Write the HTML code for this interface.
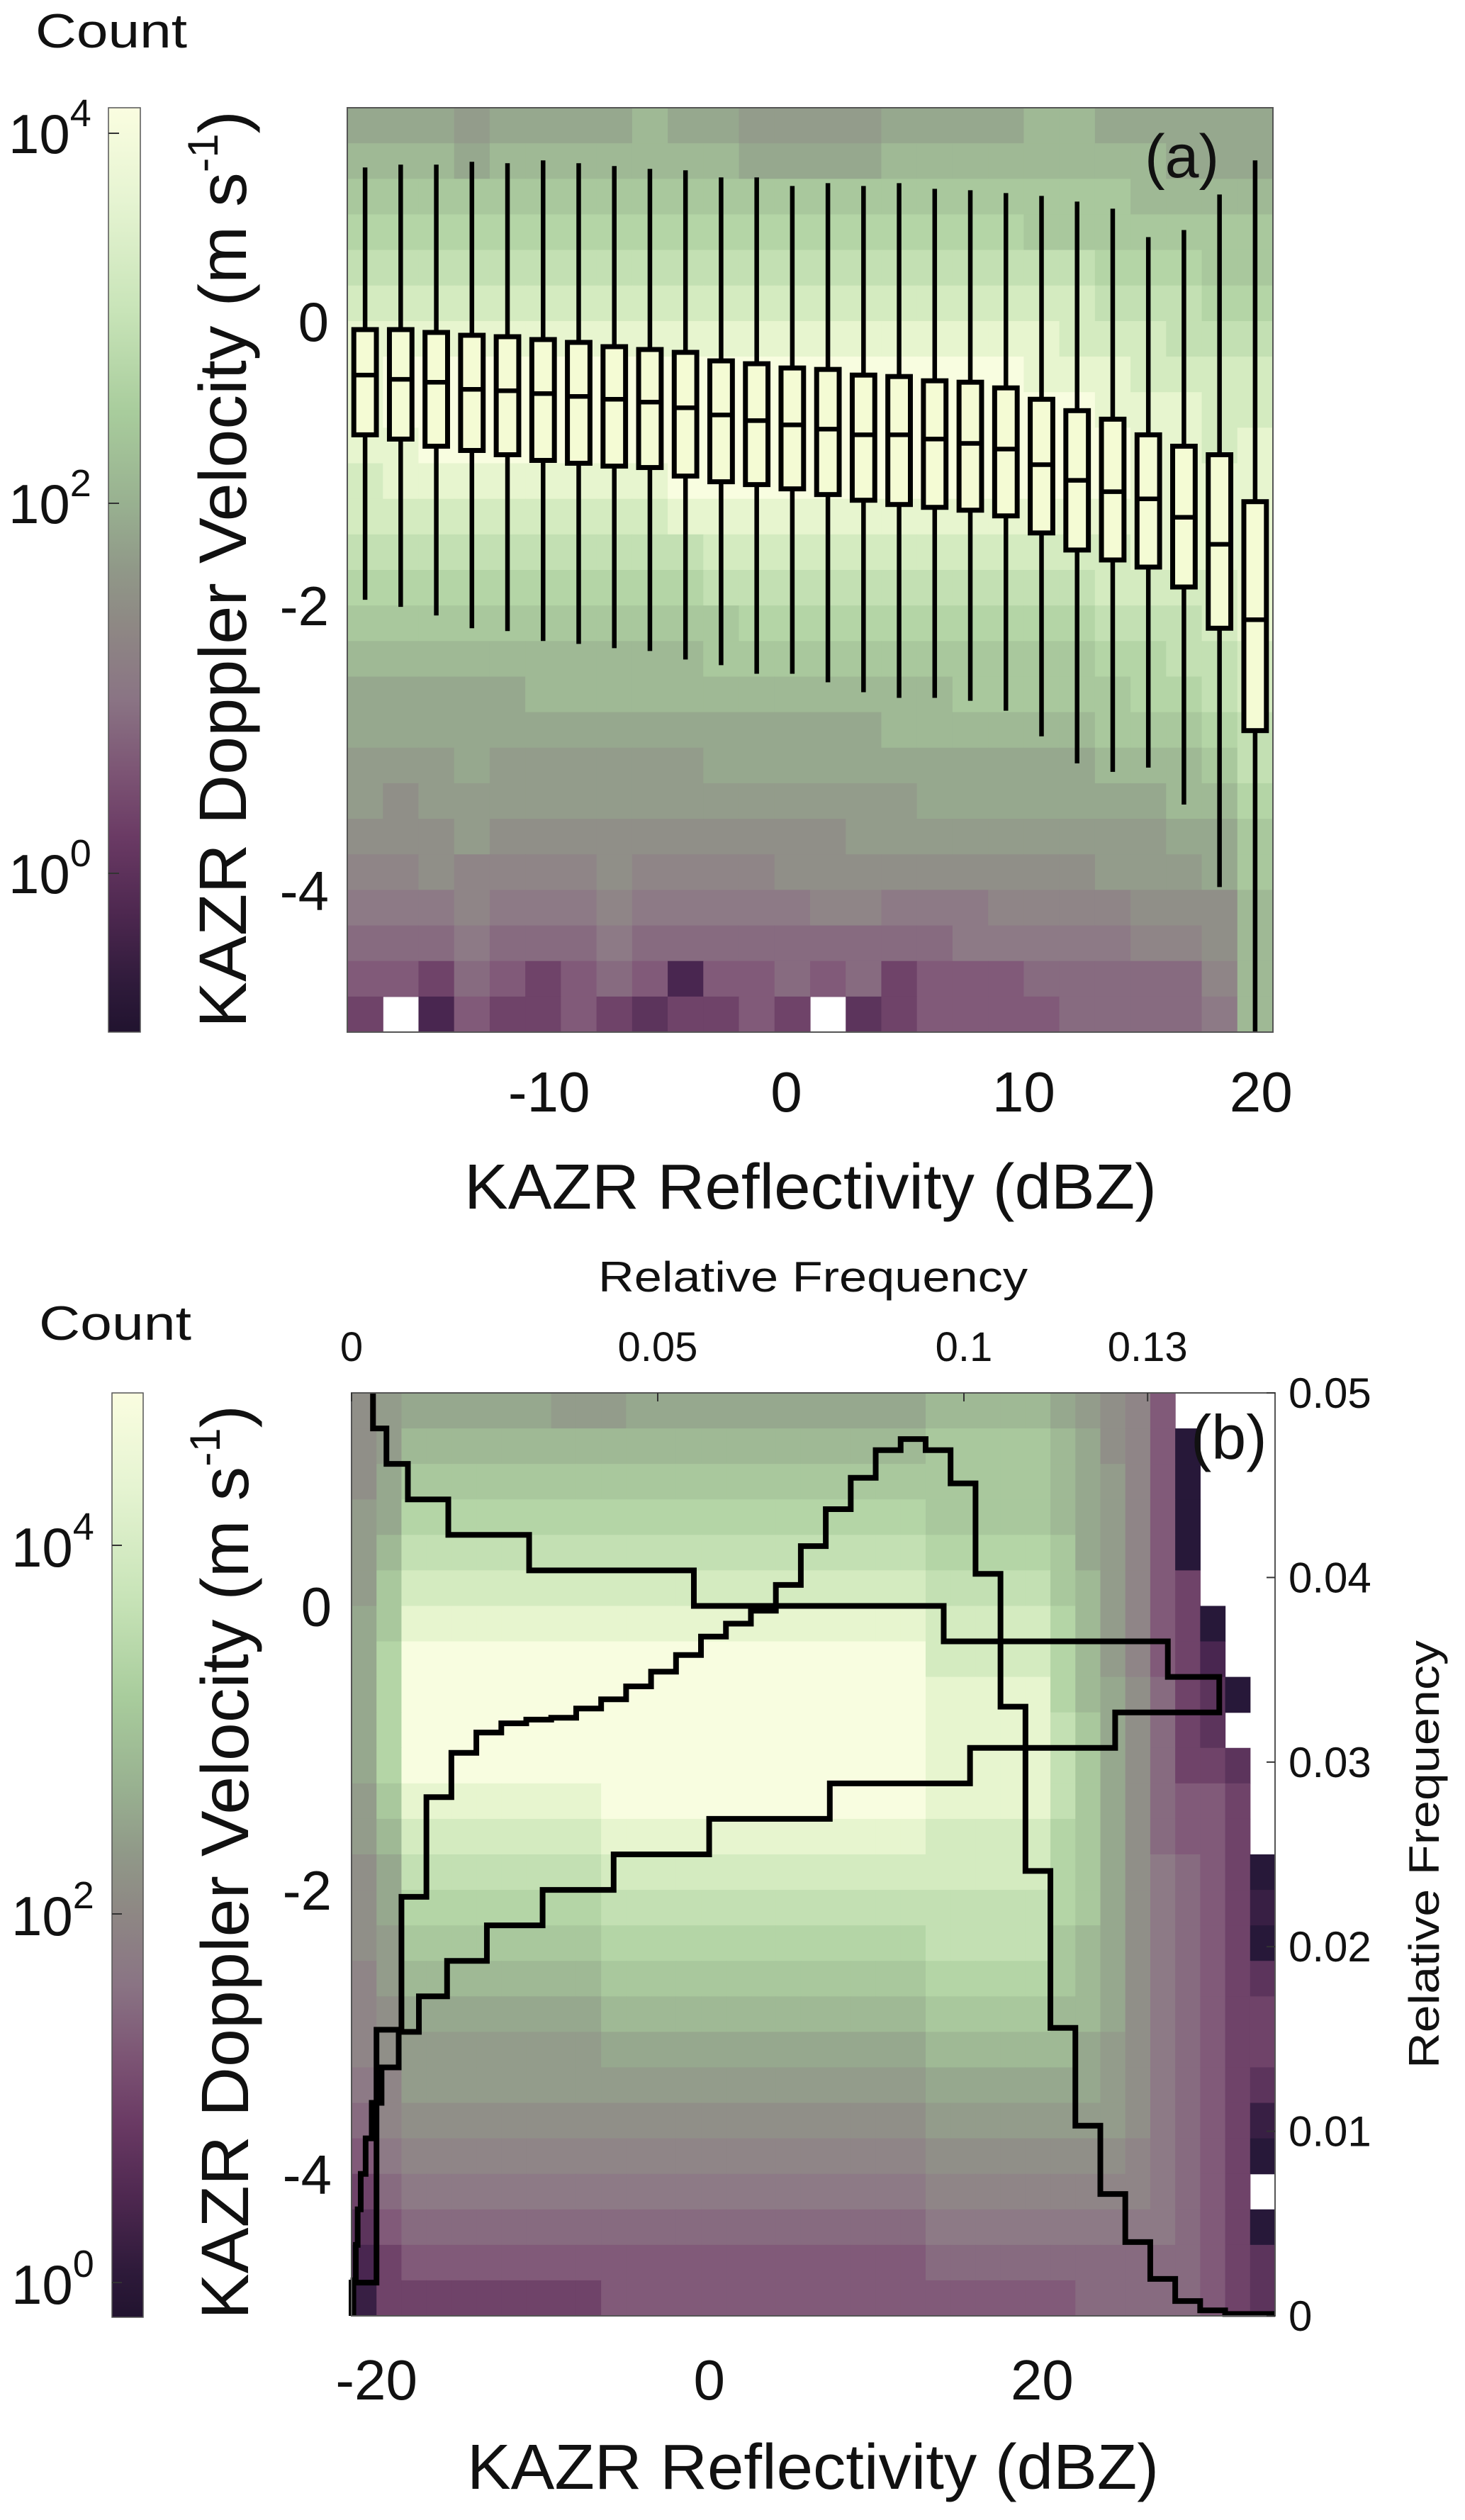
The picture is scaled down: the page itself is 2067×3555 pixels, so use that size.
<!DOCTYPE html>
<html><head><meta charset="utf-8"><title>KAZR Doppler velocity vs reflectivity</title>
<style>
html,body{margin:0;padding:0;background:#fff;}
svg{display:block;font-family:"Liberation Sans",Arial,sans-serif;}
</style></head>
<body>
<svg id="fig" width="2067" height="3555" viewBox="0 0 2067 3555" xmlns="http://www.w3.org/2000/svg">
<defs>
<linearGradient id="cbgrad" x1="0" y1="1" x2="0" y2="0">
<stop offset="0" stop-color="#21132f"/>
<stop offset="0.05" stop-color="#2e1a3a"/>
<stop offset="0.13" stop-color="#4e2850"/>
<stop offset="0.21" stop-color="#6a3a64"/>
<stop offset="0.28" stop-color="#7c5474"/>
<stop offset="0.36" stop-color="#8a7484"/>
<stop offset="0.44" stop-color="#8e8884"/>
<stop offset="0.5" stop-color="#909888"/>
<stop offset="0.57" stop-color="#98b090"/>
<stop offset="0.67" stop-color="#a8cc9c"/>
<stop offset="0.78" stop-color="#c8e4b8"/>
<stop offset="0.9" stop-color="#e6f4d2"/>
<stop offset="1" stop-color="#fafde0"/>
</linearGradient>
</defs>
<g id="layer"></g>
</svg>
<script>
// ---------- Panel (a) data ----------
var aHeatRows = [
"mmmlmmmmnmmllllmmmmnnmmmmm",
"nnnmnnnnnnnmmmmnnnnnnnnmmm",
"oooooooooooooooooooooonnnn",
"pppppppppppppppppppooooooo",
"qqqqqqqqqqqqqqqqqqqqqpppoo",
"rrrrrrrrrrrrrrrrrrrrrqqqpp",
"ssssssssssssssssssssrrrqqq",
"sttttttttttttttttttsssrrrr",
"sttttttttttttttttttttsssrr",
"ssttttttttttttttttttttssrs",
"rsssssssstttttttttttttssss",
"rrrrrrrrrsssssssssssssssss",
"qqqqqqqqqqrrrrrrrrrrrrssss",
"ppppppppppqqqqqqqqqqqrrrrs",
"oooooooooooppppppppppqqqrs",
"nnnnnnnnnnoooooooooooppqqr",
"mmmmmnnnnnnnnnnnnoooooppqr",
"mmmmmmmmmmmmmmmnnnnnnooopq",
"lllmllllllmmmmmmmmmmmnnnoq",
"lkllllllllllllllmmmmmmmnnp",
"kkklkkkkkkkkkklllllllllmmo",
"jjkjjjjkjjjjkkkkkkkkklllmo",
"iiijiiijiiiiijjiiijjjjkkkn",
"hhhihhhihhhhhhhhhiiiiijjkn",
"ggfhgfghgdgghghfggghhhhhjn",
"f.dgffgfeffgf.efgggghhhhin"
];
var aBoxCenters = [-17.75,-16.25,-14.75,-13.25,-11.75,-10.25,-8.75,-7.25,-5.75,-4.25,-2.75,-1.25,0.25,1.75,3.25,4.75,6.25,7.75,9.25,10.75,12.25,13.75,15.25,16.75,18.25,19.75];
var aWhiskerHigh = [1.08,1.10,1.10,1.12,1.11,1.13,1.11,1.09,1.07,1.06,1.01,1.01,0.95,0.97,0.95,0.97,0.93,0.92,0.90,0.88,0.84,0.79,0.59,0.64,0.89,1.13];
var aQ3 = [-0.06,-0.06,-0.08,-0.10,-0.11,-0.13,-0.15,-0.18,-0.20,-0.22,-0.28,-0.30,-0.33,-0.34,-0.38,-0.39,-0.42,-0.43,-0.47,-0.55,-0.63,-0.69,-0.80,-0.88,-0.94,-1.27];
var aMedian = [-0.38,-0.41,-0.43,-0.48,-0.49,-0.51,-0.53,-0.55,-0.57,-0.61,-0.66,-0.70,-0.73,-0.76,-0.80,-0.80,-0.83,-0.86,-0.90,-1.01,-1.12,-1.20,-1.25,-1.38,-1.57,-2.10];
var aQ1 = [-0.80,-0.83,-0.88,-0.91,-0.94,-0.98,-1.00,-1.02,-1.03,-1.09,-1.13,-1.15,-1.18,-1.22,-1.26,-1.29,-1.31,-1.33,-1.37,-1.49,-1.61,-1.68,-1.73,-1.87,-2.16,-2.88];
var aWhiskerLow = [-1.96,-2.01,-2.07,-2.16,-2.18,-2.25,-2.27,-2.30,-2.32,-2.38,-2.42,-2.48,-2.48,-2.54,-2.61,-2.65,-2.65,-2.67,-2.74,-2.92,-3.11,-3.17,-3.14,-3.40,-3.98,-5.0];
var aXTicks = [-10,0,10,20];
var aXTickLabels = ["-10","0","10","20"];
var yTicks = [0,-2,-4];
var yTickLabels = ["0","-2","-4"];
var aCbarTicks = [4,2,0];
var bCbarTicks = [4,2,0];

// ---------- Panel (b) data ----------
var bHeatRows = [
"klmmmmmmlllmmmmmmmmmmmmnnnnnmlkjg....",
"kl"+"nnnnnnnnnnnnnnnnnnnnn"+"ooooo"+"nmkjgb...",
"km"+"ooooooooooooooooooooo"+"ooooo"+"nmljgb...",
"lm"+"ppppppppppppppppppppp"+"ooooo"+"nmljgb...",
"ln"+"qqqqqqqqqqqqqqqqqqqqq"+"ppppp"+"omljgb...",
"lo"+"rrrrrrrrrrrrrrrrrrrrr"+"qqqqq"+"onljgf...",
"mo"+"sssssssssssssssssssss"+"rrrrr"+"pnljgfb..",
"mp"+"ttttttttttttttttttttt"+"rrrrr"+"pnljgfd..",
"mp"+"ttttttttttttttttttttt"+"sssss"+"pnmkhfeb.",
"mp"+"ttttttttttttttttttttt"+"sssss"+"qomkhfe..",
"mp"+"ttttttttttttttttttttt"+"sssss"+"qomkhffe.",
"lo"+"ssssssss"+"ttttttttttttt"+"sssss"+"qomkhggf.",
"ln"+"rrrrrrrr"+"sssssssssssss"+"rrrrr"+"pomkhggf.",
"km"+"qqqqqqqq"+"rrrrrrrrrrrrr"+"rrrrr"+"pomkihgfb",
"km"+"pppppppp"+"qqqqqqqqqqqqq"+"qqqqq"+"pomkihgfc",
"kl"+"oooooooo"+"ppppppppppppp"+"qqqqq"+"onmkihgfb",
"jl"+"nnnnnnnn"+"ooooooooooooo"+"ppppp"+"onmkihgfe",
"jk"+"mmmmmmmm"+"nnnnnnnnnnnnn"+"ooooo"+"nnmkihgff",
"jk"+"llllllll"+"mmmmmmmmmmmmm"+"nnnnn"+"nmlkihgff",
"ij"+"llllllll"+"lllllllllllll"+"mmmmm"+"mmlkihgfe",
"hj"+"kkkkkkkk"+"kkkkkkkkkkkkk"+"lllll"+"lllkihgfc",
"gi"+"jjjjjjjj"+"jjjjjjjjjjjjj"+"kkkkk"+"kkkjihgfb",
"fh"+"iiiiiiii"+"iiiiiiiiiiiii"+"jjjjj"+"jjjjihgf.",
"eg"+"hhhhhhhh"+"hhhhhhhhhhhhh"+"iiiii"+"iiiiihgfb",
"df"+"gggggggg"+"ggggggggggggg"+"hhhhh"+"hhhhhhgfe",
"cf"+"ffffffff"+"ggggggggggggg"+"ggggg"+"ghhhhhgfe"
];
// velocity PDF (top axis) per 0.25 m/s bin from 1.5 down to -5
var bVelFreq = [0.0035,0.0057,0.0092,0.0158,0.0290,0.0559,0.0967,0.1333,0.1417,0.1247,0.1010,0.0781,0.0584,0.0428,0.0312,0.0221,0.0156,0.0110,0.0077,0.0049,0.0033,0.0023,0.0015,0.0010,0.0007,0.0003];
// reflectivity PDF (right axis) per 1.5 dBZ bin from -21.5
var bRefFreq = [0.0018,0.0155,0.0227,0.0281,0.0305,0.0316,0.0321,0.0323,0.0324,0.0329,0.0334,0.0341,0.0349,0.0358,0.0368,0.0375,0.0382,0.0396,0.0417,0.0437,0.0454,0.0469,0.0475,0.0469,0.0451,0.0402,0.0330,0.0241,0.0156,0.0103,0.0066,0.0040,0.0020,0.0008,0.0003,0.0001,0.0001];
var bXTicks = [-20,0,20];
var bXTickLabels = ["-20","0","20"];
var bTopTicks = [0,0.05,0.1,0.13];
var bTopTickLabels = ["0","0.05","0.1","0.13"];
var bRightTicks = [0,0.01,0.02,0.03,0.04,0.05];
var bRightTickLabels = ["0","0.01","0.02","0.03","0.04","0.05"];

// ---------- axes ----------
var A = {x0:490,x1:1796,y0:152,y1:1456,xmin:-18.5,xmax:20.5,vmin:-5,vmax:1.5};
var B = {x0:496,x1:1799,y0:1965,y1:3267,xmin:-21.5,xmax:34,vmin:-5,vmax:1.5};
function xA(v){return A.x0+(v-A.xmin)/(A.xmax-A.xmin)*(A.x1-A.x0);}
function yA(v){return A.y0+(A.vmax-v)/(A.vmax-A.vmin)*(A.y1-A.y0);}
function xB(v){return B.x0+(v-B.xmin)/(B.xmax-B.xmin)*(B.x1-B.x0);}
function yB(v){return B.y0+(B.vmax-v)/(B.vmax-B.vmin)*(B.y1-B.y0);}
function xF(f){return B.x0+f/0.1*864;}
function yR(f){return B.y1-f/0.05*(B.y1-B.y0);}
function yCbA(p){return 710-(p-2)*261;}
function yCbB(p){return 2700-(p-2)*260;}

var stops=[[0,[30,18,48]],[0.05,[38,24,56]],[0.16,[74,38,80]],[0.26,[110,66,104]],[0.32,[130,92,122]],[0.42,[141,122,134]],[0.52,[144,142,136]],[0.63,[150,168,142]],[0.72,[165,196,154]],[0.80,[182,216,168]],[0.88,[207,232,188]],[0.95,[232,246,208]],[1,[248,253,224]]];
function cmap(t){
  for(var i=1;i<stops.length;i++){ if(t<=stops[i][0]){var a=stops[i-1],b=stops[i],f=(t-a[0])/(b[0]-a[0]);
    var c=a[1].map(function(v,k){return Math.round(v+(b[1][k]-v)*f);});return 'rgb('+c.join(',')+')';}}
  return 'rgb(248,253,224)';
}
var NS="http://www.w3.org/2000/svg";
var layer=document.getElementById('layer');
function mk(tag,attrs,parent){var e=document.createElementNS(NS,tag);for(var k in attrs)e.setAttribute(k,attrs[k]);(parent||layer).appendChild(e);return e;}
function txt(s,attrs,parent){var e=mk('text',attrs,parent);e.textContent=s;return e;}

// ===== Panel (a) =====
var gA=mk('g',{});


var heatA=mk('g',{},gA);


aHeatRows.forEach(function(row,r){
  for(var c=0;c<26;c++){
    var ch=row.charAt(c)||row.charAt(row.length-1); if(ch==='.')continue;
    var t=(ch.charCodeAt(0)-97)/19;
    var xl=xA(A.xmin+1.5*c), xr=xA(A.xmin+1.5*(c+1)), yt=yA(A.vmax-0.25*r), yb=yA(A.vmax-0.25*(r+1));
    var cell=mk('rect',{x:xl,y:yt,width:xr-xl+0.6,height:yb-yt+0.6,fill:cmap(t)},heatA);
    
    
  }
});
var boxesA=mk('g',{stroke:'#000','stroke-width':7,fill:'none'},gA);


aBoxCenters.forEach(function(cx,i){
  var x=xA(cx), w=xA(0.95)-xA(0);
  var g=mk('g',{},boxesA);
  
  
  mk('line',{x1:x,x2:x,y1:yA(aWhiskerHigh[i]),y2:yA(aQ3[i]),'stroke-width':6.5},g);
  mk('line',{x1:x,x2:x,y1:yA(aQ1[i]),y2:yA(aWhiskerLow[i]),'stroke-width':6.5},g);
  mk('rect',{x:x-w/2,y:yA(aQ3[i]),width:w,height:yA(aQ1[i])-yA(aQ3[i]),fill:'#f4fbd4'},g);
  mk('line',{x1:x-w/2,x2:x+w/2,y1:yA(aMedian[i]),y2:yA(aMedian[i]),'stroke-width':6.5},g);
});
var frA=mk('rect',{x:A.x0,y:A.y0,width:A.x1-A.x0,height:A.y1-A.y0,fill:'none',stroke:'#555','stroke-width':2},gA);


var la=txt('(a)',{x:1615,y:250,'font-size':86,fill:'#111'},gA);


yTicks.forEach(function(v,i){
  var t=txt(yTickLabels[i],{x:464,y:yA(v)+28,'font-size':78,'text-anchor':'end',fill:'#111'},gA);
  
  
});
aXTicks.forEach(function(v,i){
  var t=txt(aXTickLabels[i],{x:xA(v),y:1568,'font-size':80,'text-anchor':'middle',fill:'#111'},gA);
  
  
});
var xla=txt('KAZR Reflectivity (dBZ)',{x:655,y:1705,'font-size':90,textLength:977,lengthAdjust:'spacingAndGlyphs',fill:'#111'},gA);


var yla=txt('',{transform:'translate(347,1450) rotate(-90)','font-size':95,textLength:1294,lengthAdjust:'spacingAndGlyphs',fill:'#111'},gA);
yla.innerHTML='KAZR Doppler Velocity (m s<tspan dy="-40" font-size="60">-1</tspan><tspan dy="40">)</tspan>';


// colorbar a
var cbA=mk('rect',{x:153,y:152,width:45,height:1304,fill:'url(#cbgrad)',stroke:'#555','stroke-width':1.5},gA);


var cntA=txt('Count',{x:50,y:67,'font-size':68,textLength:214,lengthAdjust:'spacingAndGlyphs',fill:'#111'},gA);


aCbarTicks.forEach(function(p){
  var y=yCbA(p);
  mk('line',{x1:153,x2:168,y1:y,y2:y,stroke:'#333','stroke-width':2},gA);
  var t=txt('',{x:12,y:y+28,'font-size':78,fill:'#111'},gA);
  t.innerHTML='10<tspan dy="-38" font-size="54">'+p+'</tspan>';
  
  
});

// ===== Panel (b) =====
var gB=mk('g',{});


var heatB=mk('g',{},gB);


bHeatRows.forEach(function(row,r){
  for(var c=0;c<37;c++){
    var ch=row.charAt(c)||'.'; if(ch==='.')continue;
    var t=(ch.charCodeAt(0)-97)/19;
    var xl=xB(B.xmin+1.5*c), xr=xB(B.xmin+1.5*(c+1)), yt=yB(B.vmax-0.25*r), yb=yB(B.vmax-0.25*(r+1));
    var cell=mk('rect',{x:xl,y:yt,width:xr-xl+0.6,height:yb-yt+0.6,fill:cmap(t)},heatB);
    
    
  }
});
// velocity PDF stairs
var d='';
bVelFreq.forEach(function(f,r){
  var x=xF(f), yt=yB(B.vmax-0.25*r), yb=yB(B.vmax-0.25*(r+1));
  d+=(r===0?'M':'L')+x+','+yt+' L'+x+','+yb+' ';
});
var vel=mk('path',{d:d,fill:'none',stroke:'#000','stroke-width':8,'stroke-linejoin':'miter'},gB);


// reflectivity PDF stairs
var d2='M'+xB(B.xmin)+','+B.y1+' ';
bRefFreq.forEach(function(f,c){
  var y=yR(f), xl=xB(B.xmin+1.5*c), xr=xB(B.xmin+1.5*(c+1));
  d2+='L'+xl+','+y+' L'+xr+','+y+' ';
});
var ref=mk('path',{d:d2,fill:'none',stroke:'#000','stroke-width':8,'stroke-linejoin':'miter'},gB);


var frB=mk('rect',{x:B.x0,y:B.y0,width:B.x1-B.x0,height:B.y1-B.y0,fill:'none',stroke:'#555','stroke-width':2},gB);


var lb=txt('(b)',{x:1680,y:2058,'font-size':88,fill:'#111'},gB);


yTicks.forEach(function(v,i){
  var t=txt(yTickLabels[i],{x:468,y:yB(v)+28,'font-size':78,'text-anchor':'end',fill:'#111'},gB);
  
  
});
bXTicks.forEach(function(v,i){
  var t=txt(bXTickLabels[i],{x:xB(v),y:3385,'font-size':80,'text-anchor':'middle',fill:'#111'},gB);
  
  
});
bTopTicks.forEach(function(f,i){
  var x=xF(f);
  mk('line',{x1:x,x2:x,y1:B.y0,y2:B.y0+12,stroke:'#333','stroke-width':2},gB);
  var t=txt(bTopTickLabels[i],{x:x,y:1920,'font-size':58,'text-anchor':'middle',fill:'#111'},gB);
  
  
});
bRightTicks.forEach(function(f,i){
  var y=yR(f);
  mk('line',{x1:B.x1-12,x2:B.x1,y1:y,y2:y,stroke:'#333','stroke-width':2},gB);
  var t=txt(bRightTickLabels[i],{x:1818,y:y+21,'font-size':60,fill:'#111'},gB);
  
  
});
var topT=txt('Relative Frequency',{x:844,y:1822,'font-size':60,textLength:606,lengthAdjust:'spacingAndGlyphs',fill:'#111'},gB);


var rT=txt('Relative Frequency',{transform:'translate(2030,2918) rotate(-90)','font-size':60,textLength:604,lengthAdjust:'spacingAndGlyphs',fill:'#111'},gB);


var xlb=txt('KAZR Reflectivity (dBZ)',{x:659,y:3511,'font-size':90,textLength:976,lengthAdjust:'spacingAndGlyphs',fill:'#111'},gB);


var ylb=txt('',{transform:'translate(350,3272) rotate(-90)','font-size':95,textLength:1290,lengthAdjust:'spacingAndGlyphs',fill:'#111'},gB);
ylb.innerHTML='KAZR Doppler Velocity (m s<tspan dy="-40" font-size="60">-1</tspan><tspan dy="40">)</tspan>';


var cbB=mk('rect',{x:158,y:1965,width:44,height:1304,fill:'url(#cbgrad)',stroke:'#555','stroke-width':1.5},gB);


var cntB=txt('Count',{x:55,y:1890,'font-size':68,textLength:215,lengthAdjust:'spacingAndGlyphs',fill:'#111'},gB);


bCbarTicks.forEach(function(p){
  var y=yCbB(p);
  mk('line',{x1:158,x2:172,y1:y,y2:y,stroke:'#333','stroke-width':2},gB);
  var t=txt('',{x:16,y:y+30,'font-size':78,fill:'#111'},gB);
  t.innerHTML='10<tspan dy="-38" font-size="54">'+p+'</tspan>';
  
  
});
</script>
</body></html>
